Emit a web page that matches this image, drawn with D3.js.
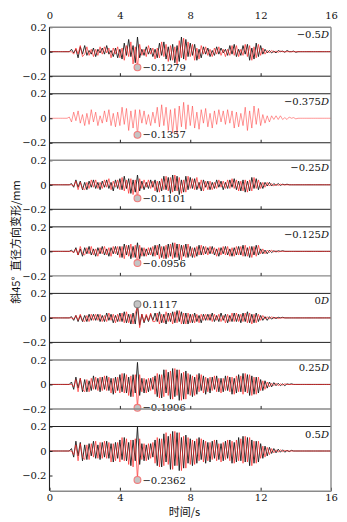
<!DOCTYPE html>
<html><head><meta charset="utf-8">
<script src="https://cdn.jsdelivr.net/npm/d3@7"></script>
<style>html,body{margin:0;padding:0;background:#fff;}svg{display:block;}</style>
</head><body>
<svg id="c" width="347" height="522"></svg>
<script>
// ---------- data ----------
const panelLabels = ["−0.5", "−0.375", "−0.25", "−0.125", "0", "0.25", "0.5"];
const markerSeries = ["red", "red", "red", "red", "black", "red", "red"];
const xTicks = [0, 4, 8, 12, 16];
const yTicks = [-0.2, 0, 0.2];
const dt = 0.125; // s, sample step (t = index * dt)
const xTitle = "时间/s";
const yTitle = "斜45°\u2002直径方向变形/mm";

const black1 = [0,0,0,0,0,0,0,0,
 0,0,.02,-.01,.02,-.05,.04,-.02, .05,-.03,.01,-.02,.03,-.04,.02,-.01, .03,-.02,.05,-.02,.01,-.04,.03,-.05,
 .02,-.06,.07,-.03,.10,-.04,.05,-.09, .12,-.05,.02,-.03,.04,-.02,.03,-.04, .02,-.05,.07,-.03,.08,-.06,.04,-.07,
 .06,-.09,.05,-.08,.12,-.06,.10,-.04, .07,-.03,.06,-.07,.02,-.05,.04,-.02, .03,-.04,.01,-.03,.04,-.02,.03,-.01,
 .02,-.03,.05,-.02,.06,-.04,.02,-.03, .05,-.02,.06,-.07,.03,-.06,.07,-.04, .05,-.02,.02,-.01,.01,-.01,.005,-.01,
 .01,0,.005,-.005,.01,0,0,.005, -.005,0,0,0,0,0,0,0, 0,0,0,0,0,0,0,0,0];
const red1 = [0,0,0,0,0,0,0,0,
 0,0,0,-.02,.03,-.02,.05,-.04, -.02,.04,-.03,.02,-.04,.02,-.03,.04, -.02,.04,-.01,.03,-.05,.03,-.02,.04,
 -.05,.03,-.07,.05,-.04,.08,-.10,.04, -.1279,.06,-.03,.02,-.04,.05,-.02,.03, -.06,.03,-.05,.08,-.04,.06,-.08,.05,
 -.07,.04,-.10,.09,-.05,.11,-.07,.08, -.04,.06,-.07,.03,-.06,.05,-.02,.04, -.03,.02,-.04,.03,-.02,.04,-.03,.02,
 -.04,.02,-.03,.05,-.03,.05,-.04,.02, -.03,.06,-.04,.05,-.07,.04,-.05,.06, -.03,.03,-.02,.01,-.01,.01,-.005,.005,
 -.005,.005,0,0,0,0,0,0, 0,0,0,0,0,0,0,0, 0,0,0,0,0,0,0,0,0];
const red2 = [0,0,0,0,0,0,0,0,
 0,.01,-.03,.05,-.02,.06,-.04,.03, -.06,.04,-.05,.07,-.03,.05,-.06,.02, -.04,.06,-.03,.07,-.06,.04,-.07,.05,
 -.06,.09,-.05,.08,-.10,.06,-.08,.07, -.1357,.07,-.04,.06,-.05,.03,-.06,.05, -.04,.09,-.07,.11,-.06,.09,-.10,.07,
 -.12,.08,-.13,.10,-.07,.13,-.09,.11, -.06,.10,-.08,.05,-.09,.07,-.04,.08, -.07,.04,-.08,.06,-.05,.07,-.03,.06,
 -.05,.07,-.04,.06,-.08,.05,-.07,.04, -.06,.09,-.10,.06,-.08,.10,-.05,.08, -.06,.03,-.04,.02,-.03,.02,-.01,.02,
 -.01,.02,-.01,.005,-.01,.01,0,.005, -.005,0,0,0,0,0,0,0, 0,0,0,0,0,0,0,0,0];
const black3 = [0,0,0,0,0,0,0,0,
 0,0,.01,-.02,.04,-.02,.03,-.04, .02,-.04,.03,-.02,.04,-.03,.02,-.04, .03,-.02,.04,-.03,.02,-.05,.04,-.03,
 .05,-.04,.07,-.03,.05,-.07,.04,-.06, .08,-.05,.03,-.04,.02,-.03,.04,-.02, .04,-.06,.03,-.05,.07,-.04,.06,-.07,
 .08,-.05,.07,-.08,.04,-.06,.07,-.04, .06,-.03,.05,-.04,.02,-.05,.04,-.02, .03,-.04,.02,-.03,.04,-.02,.03,-.04,
 .02,-.03,.04,-.02,.05,-.04,.03,-.05, .04,-.06,.03,-.05,.06,-.03,.05,-.04, .02,-.03,.02,-.01,.02,-.01,.01,-.005,
 .01,-.005,.005,0,.005,0,0,0, 0,0,0,0,0,0,0,0, 0,0,0,0,0,0,0,0,0];
const red3 = [0,0,0,0,0,0,0,0,
 0,0,0,-.01,.03,-.04,.02,-.03, -.04,.02,-.03,.04,-.02,.04,-.03,.02, -.03,.04,-.02,.05,-.04,.03,-.02,.04,
 -.04,.06,-.05,.04,-.07,.05,-.08,.04, -.1101,.05,-.03,.04,-.02,.04,-.03,.03, -.05,.03,-.06,.05,-.04,.07,-.05,.06,
 -.06,.08,-.05,.06,-.07,.04,-.06,.07, -.03,.05,-.04,.06,-.03,.04,-.05,.03, -.04,.03,-.04,.02,-.03,.04,-.02,.03,
 -.03,.04,-.03,.05,-.03,.04,-.05,.03, -.05,.04,-.06,.04,-.05,.06,-.03,.04, -.03,.02,-.02,.02,-.01,.01,-.01,.005,
 -.005,.005,0,0,0,0,0,0, 0,0,0,0,0,0,0,0, 0,0,0,0,0,0,0,0,0];
const black4 = [0,0,0,0,0,0,0,0,
 0,0,.01,-.01,.03,-.03,.02,-.04, .03,-.02,.04,-.03,.02,-.04,.03,-.02, .04,-.03,.02,-.04,.03,-.02,.04,-.03,
 .04,-.05,.06,-.03,.05,-.06,.04,-.05, .07,-.06,.03,-.04,.02,-.03,.03,-.04, .05,-.03,.06,-.05,.04,-.06,.06,-.04,
 .07,-.05,.06,-.07,.05,-.04,.06,-.05, .04,-.05,.03,-.04,.05,-.03,.04,-.02, .03,-.02,.04,-.03,.02,-.04,.03,-.02,
 .04,-.03,.02,-.04,.03,-.03,.04,-.03, .05,-.04,.03,-.05,.04,-.03,.05,-.03, .02,-.02,.01,-.02,.01,-.01,.005,-.005,
 .005,0,.005,0,0,0,0,0, 0,0,0,0,0,0,0,0, 0,0,0,0,0,0,0,0,0];
const red4 = [0,0,0,0,0,0,0,0,
 0,0,0,-.01,.02,-.03,.04,-.02, -.03,.03,-.02,.04,-.03,.02,-.04,.03, -.02,.04,-.03,.03,-.04,.04,-.02,.04,
 -.05,.04,-.06,.05,-.04,.06,-.05,.05, -.0956,.05,-.04,.03,-.04,.03,-.03,.04, -.04,.05,-.06,.04,-.06,.05,-.05,.06,
 -.06,.07,-.05,.06,-.07,.05,-.05,.06, -.04,.03,-.05,.04,-.03,.05,-.03,.04, -.03,.04,-.02,.03,-.04,.03,-.03,.04,
 -.03,.04,-.04,.03,-.04,.04,-.03,.04, -.04,.05,-.04,.04,-.05,.04,-.04,.05, -.02,.02,-.02,.01,-.01,.01,-.005,.005,
 -.005,0,0,0,0,0,0,0, 0,0,0,0,0,0,0,0, 0,0,0,0,0,0,0,0,0];
const black5 = [0,0,0,0,0,0,0,0,
 0,0,.01,-.02,.02,-.03,.02,-.03, .02,-.03,.03,-.02,.03,-.02,.03,-.03, .02,-.03,.04,-.02,.03,-.04,.02,-.03,
 .04,-.03,.05,-.04,.03,-.05,.04,-.05, .1117,-.06,.03,-.04,.02,-.03,.03,-.02, .04,-.03,.05,-.04,.03,-.05,.04,-.03,
 .05,-.04,.06,-.03,.05,-.05,.04,-.05, .03,-.04,.04,-.03,.02,-.04,.03,-.02, .03,-.02,.04,-.03,.02,-.03,.04,-.02,
 .03,-.04,.02,-.03,.04,-.03,.03,-.04, .04,-.03,.05,-.04,.03,-.04,.04,-.03, .02,-.02,.01,-.02,.01,-.01,.005,-.005,
 .005,0,.005,0,0,0,0,0, 0,0,0,0,0,0,0,0, 0,0,0,0,0,0,0,0,0];
const red5 = [0,0,0,0,0,0,0,0,
 0,0,0,-.01,.02,-.02,.03,-.02, -.03,.02,-.03,.03,-.02,.03,-.02,.03, -.03,.02,-.03,.04,-.02,.03,-.04,.03,
 -.03,.04,-.04,.05,-.04,.03,-.05,.04, .09,-.08,.03,-.03,.03,-.02,.04,-.03, -.03,.04,-.05,.03,-.04,.05,-.03,.04,
 -.05,.05,-.04,.06,-.05,.04,-.05,.04, -.04,.03,-.04,.03,-.04,.03,-.02,.03, -.02,.03,-.03,.03,-.02,.03,-.03,.02,
 -.04,.03,-.03,.04,-.03,.04,-.03,.03, -.03,.04,-.04,.04,-.05,.03,-.04,.03, -.02,.02,-.01,.01,-.01,.01,-.005,.005,
 -.005,0,0,0,0,0,0,0, 0,0,0,0,0,0,0,0, 0,0,0,0,0,0,0,0,0];
const black6 = [0,0,0,0,0,0,0,0,
 0,0,.02,-.04,.06,-.03,.05,-.06, .04,-.06,.03,-.05,.07,-.04,.05,-.06, .06,-.04,.07,-.05,.05,-.08,.06,-.05,
 .08,-.06,.09,-.07,.06,-.10,.08,-.07, .18,-.09,.05,-.07,.04,-.06,.05,-.04, .07,-.10,.08,-.11,.12,-.07,.10,-.12,
 .13,-.10,.12,-.13,.09,-.12,.11,-.08, .08,-.10,.06,-.08,.09,-.05,.07,-.08, .05,-.07,.06,-.04,.07,-.06,.05,-.06,
 .07,-.05,.06,-.08,.05,-.07,.08,-.06, .09,-.06,.08,-.09,.07,-.08,.06,-.07, .04,-.05,.03,-.03,.02,-.02,.015,-.01,
 .01,-.01,.005,-.01,.005,0,.005,0, 0,0,0,0,0,0,0,0, 0,0,0,0,0,0,0,0,0];
const red6 = [0,0,0,0,0,0,0,0,
 0,0,0,-.02,.04,-.06,.05,-.04, -.06,.04,-.06,.05,-.04,.06,-.05,.06, -.05,.07,-.05,.06,-.07,.05,-.07,.06,
 -.07,.09,-.07,.08,-.09,.07,-.10,.08, -.1906,.08,-.06,.05,-.07,.05,-.05,.06, -.08,.09,-.11,.08,-.10,.12,-.09,.11,
 -.12,.13,-.09,.12,-.13,.10,-.12,.09, -.09,.07,-.09,.08,-.06,.08,-.07,.06, -.06,.06,-.05,.07,-.06,.05,-.07,.05,
 -.05,.07,-.06,.06,-.08,.07,-.06,.07, -.08,.09,-.07,.08,-.09,.06,-.08,.06, -.05,.03,-.04,.02,-.02,.01,-.01,.01,
 -.01,.005,-.005,.005,0,0,0,0, 0,0,0,0,0,0,0,0, 0,0,0,0,0,0,0,0,0];
const black7 = [0,0,0,0,0,0,0,0,
 0,0,.02,-.05,.08,-.04,.07,-.08, .05,-.07,.06,-.04,.08,-.06,.05,-.07, .07,-.05,.08,-.06,.06,-.09,.07,-.06,
 .09,-.07,.11,-.08,.07,-.12,.09,-.08, .20,-.11,.06,-.08,.05,-.07,.06,-.05, .09,-.12,.10,-.13,.14,-.09,.12,-.15,
 .16,-.12,.15,-.16,.11,-.14,.13,-.10, .10,-.12,.08,-.10,.11,-.07,.09,-.10, .07,-.09,.08,-.06,.09,-.07,.06,-.08,
 .08,-.06,.09,-.10,.07,-.09,.11,-.08, .12,-.09,.11,-.12,.09,-.10,.08,-.09, .06,-.06,.04,-.04,.03,-.02,.02,-.015,
 .015,-.01,.01,-.01,.005,-.005,.005,0, 0,0,0,0,0,0,0,0, 0,0,0,0,0,0,0,0,0];
const red7 = [0,0,0,0,0,0,0,0,
 0,0,0,-.03,.05,-.08,.06,-.05, -.07,.05,-.07,.06,-.05,.08,-.06,.07, -.06,.08,-.06,.07,-.09,.06,-.08,.07,
 -.09,.11,-.08,.10,-.11,.09,-.13,.10, -.2362,.10,-.07,.06,-.08,.06,-.06,.07, -.10,.11,-.13,.10,-.12,.15,-.11,.14,
 -.15,.16,-.12,.15,-.16,.12,-.14,.11, -.11,.09,-.11,.10,-.08,.10,-.09,.08, -.08,.07,-.07,.09,-.08,.06,-.09,.07,
 -.07,.09,-.08,.08,-.10,.09,-.08,.10, -.10,.12,-.09,.11,-.12,.08,-.10,.08, -.06,.04,-.05,.03,-.03,.02,-.015,.01,
 -.01,.01,-.005,.005,0,0,0,0, 0,0,0,0,0,0,0,0, 0,0,0,0,0,0,0,0,0];

const blackSeries = [black1, null, black3, black4, black5, black6, black7];
const redSeries = [red1, red2, red3, red4, red5, red6, red7];

// ---------- layout ----------
const W = 347, H = 522;
const left = 49.5, right = 331;
const firstTop = 27.2, step = 66.55, bandH = 49;
const bottomAxisY = 490.7;
const topLineColor = ["#8a8a8a", "#222", "#8a8a8a", "#222", "#222", "#8a8a8a", "#222"];
const botLineColor = ["#222", "#222", "#222", "#8a8a8a", "#222", "#8a8a8a"];
const serif = "'DejaVu Serif', 'Liberation Serif', serif";
const cjk = "'Noto Sans CJK SC', 'Noto Sans', sans-serif";

const svg = d3.select("#c");
const x = d3.scaleLinear().domain([0, 16]).range([left, right]);
const yFmt = d => d === 0 ? "0" : d3.format(".1f")(d);

svg.append("rect").attr("width", W).attr("height", H).attr("fill", "#fff");

redSeries.forEach((red, p) => {
  const top = firstTop + step * p;
  const y = d3.scaleLinear().domain([-0.2, 0.2]).range([top + bandH, top]);
  const g = svg.append("g");
  const line = d3.line().x((d, i) => x(i * dt)).y(d => y(d));
  const black = blackSeries[p];
  if (black) {
    g.append("path").datum(black).attr("d", line)
      .attr("fill", "none").attr("stroke", "#1a1a1a").attr("stroke-width", 0.9)
      .attr("stroke-linejoin", "round");
  }
  g.append("path").datum(red).attr("d", line)
    .attr("fill", "none").attr("stroke", black ? "#ff1f1f" : "#ff3b3b")
    .attr("stroke-opacity", black ? 0.72 : 0.6).attr("stroke-width", 0.9)
    .attr("stroke-linejoin", "round");

  // marker at the extreme value
  const ser = markerSeries[p] === "red" ? red : black;
  const mi = d3.maxIndex(ser, v => Math.abs(v));
  const mv = ser[mi];
  const cx = x(mi * dt), cy = y(mv);
  g.append("circle").attr("cx", cx).attr("cy", cy).attr("r", 3.4)
    .attr("fill", "#c4c4c4")
    .attr("stroke", markerSeries[p] === "red" ? "#f07a7a" : "#8a8a8a")
    .attr("stroke-width", 1.1);
  g.append("text").attr("x", cx + 5).attr("y", cy + 3.6)
    .attr("font-family", serif).attr("font-size", 10).attr("fill", "#111")
    .text(d3.format(".4f")(mv));

  // panel label
  const lab = g.append("text").attr("x", 329).attr("y", top + 11)
    .attr("text-anchor", "end").attr("font-family", serif).attr("font-size", 10).attr("fill", "#111");
  lab.append("tspan").text(panelLabels[p]);
  lab.append("tspan").attr("font-style", "italic").text("D");

  // y axis ticks
  const ya = svg.append("g").attr("transform", `translate(${left},0)`)
    .call(d3.axisLeft(y).tickValues(yTicks).tickFormat(yFmt).tickSizeInner(-3).tickSizeOuter(0).tickPadding(3));
  ya.select(".domain").remove();
  ya.selectAll("line").attr("stroke", "#222");
  ya.selectAll("text").attr("font-family", serif).attr("font-size", 10).attr("fill", "#111");

  // panel top line
  svg.append("line").attr("x1", left).attr("x2", right).attr("y1", top).attr("y2", top)
    .attr("stroke", topLineColor[p]).attr("stroke-width", topLineColor[p] === "#222" ? 1 : 1.4);
  if (p < redSeries.length - 1) {
    const yb = y(-0.2);
    svg.append("line").attr("x1", left).attr("x2", right).attr("y1", yb).attr("y2", yb)
      .attr("stroke", botLineColor[p]).attr("stroke-width", botLineColor[p] === "#222" ? 1 : 1.4);
    const xa = svg.append("g").attr("transform", `translate(0,${yb})`)
      .call(d3.axisBottom(x).tickValues(xTicks.slice(1, -1)).tickFormat("").tickSizeInner(-3).tickSizeOuter(0));
    xa.select(".domain").remove();
    xa.selectAll("line").attr("stroke", "#222");
  }
});

// bottom axis
const xb = svg.append("g").attr("transform", `translate(0,${bottomAxisY})`)
  .call(d3.axisBottom(x).tickValues(xTicks).tickSizeInner(-3).tickSizeOuter(0).tickPadding(3));
xb.select(".domain").attr("stroke", "#8a8a8a").attr("stroke-width", 1.4);
xb.selectAll("line").attr("stroke", "#222");
xb.selectAll("text").attr("font-family", serif).attr("font-size", 10).attr("fill", "#111");

// top axis labels
const xt = svg.append("g").attr("transform", `translate(0,${firstTop})`)
  .call(d3.axisTop(x).tickValues(xTicks).tickSize(0).tickPadding(8));
xt.select(".domain").remove();
xt.selectAll("text").attr("font-family", serif).attr("font-size", 10).attr("fill", "#111");

// left axis & right border
svg.append("line").attr("x1", left).attr("x2", left).attr("y1", firstTop).attr("y2", bottomAxisY)
  .attr("stroke", "#222").attr("stroke-width", 1.1);
svg.append("line").attr("x1", right).attr("x2", right).attr("y1", firstTop).attr("y2", bottomAxisY)
  .attr("stroke", "#8a8a8a").attr("stroke-width", 1.4);

// titles
svg.append("text").attr("x", 184.5).attr("y", 515.5).attr("text-anchor", "middle")
  .attr("font-family", cjk).attr("font-size", 11).attr("fill", "#111").text(xTitle);
svg.append("text").attr("transform", "translate(19.5,242) rotate(-90)").attr("text-anchor", "middle")
  .attr("font-family", cjk).attr("font-size", 11).attr("fill", "#111").text(yTitle);
</script>
</body></html>
